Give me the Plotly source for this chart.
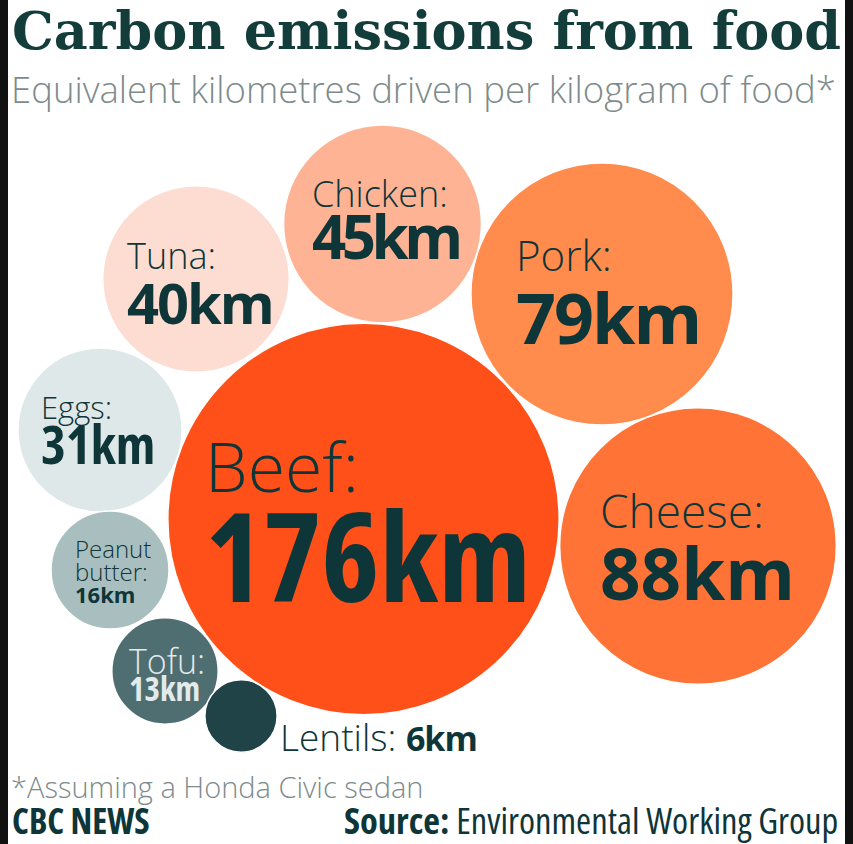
import plotly.graph_objects as go

# ---- data ----
categories = ["Beef", "Cheese", "Pork", "Chicken", "Tuna", "Eggs", "Peanut butter", "Tofu", "Lentils"]
values_km = [176, 88, 79, 45, 40, 31, 16, 13, 6]

# ---- styles ----
bubble_colors = ["#FF5019", "#FF7436", "#FF8B4C", "#FFB395", "#FDDCD1", "#DEE8E9", "#A9BEBF", "#4F6E72", "#1F4347"]
text_colors = ["#0E3538"] * 7 + ["#E2EAEA", "#0E3538"]

# ---- layout positions (pixels) ----
center_x = [363.5, 698, 602, 382.5, 196, 100, 110, 165, 241]
center_y = [519, 546, 294, 224, 279, 430, 570, 671, 716]
label_x = [204, 599, 515, 311, 126, 40, 74, 128, 279]
name_base = [490, 527, 270, 206, 268, 418, 580, 673, 750]
name_size = [68, 46, 42, 36, 36, 31, 24, 34, 37]
value_base = [598, 598, 342, 258, 322, 463, 602, 700, 750]
value_size = [124, 71, 70, 60, 56, 53, 22, 33, 34]
value_stretch = [77, 100, 100, 100, 100, 80, 100, 80, 100]
value_spacing = [0, 0, -2, -4.5, -2, 0, 0, 0, -1]
RADIUS_PER_SQRT_KM = 14.75

W, H = 853, 844
DARK = "#0E3538"
SANS = "Open Sans"

fig = go.Figure()
fig.add_trace(go.Scatter(
    x=center_x, y=center_y, mode="markers",
    marker=dict(size=values_km, sizemode="area",
                sizeref=1.0 / (2 * RADIUS_PER_SQRT_KM ** 2),
                color=bubble_colors, opacity=1,
                line=dict(color="white", width=1.5)),
    hoverinfo="skip", showlegend=False,
))

ann = []


def styled(text, stretch=100, spacing=0, size=None):
    css = []
    if stretch != 100:
        css.append(f"font-stretch:{stretch}%")
    if spacing:
        css.append(f"letter-spacing:{spacing}px")
    if size:
        css.append(f"font-size:{size}px")
    if css:
        return f'<span style="{";".join(css)}">{text}</span>'
    return text


def add_text(x, base, size, text, color, weight=400, family=SANS, xanchor="left"):
    ann.append(dict(x=x, y=base - 0.36 * size, xref="x", yref="y", text=text,
                    showarrow=False, xanchor=xanchor, yanchor="middle",
                    font=dict(family=family, size=size, color=color, weight=weight),
                    borderpad=0))


for i, cat in enumerate(categories):
    col = text_colors[i]
    if cat == "Lentils":
        val = styled(f"{values_km[i]}km", value_stretch[i], value_spacing[i], value_size[i])
        add_text(label_x[i], name_base[i], name_size[i], f"{cat}: <b>{val}</b>", col, weight=300)
        continue
    val = styled(f"{values_km[i]}km", value_stretch[i], value_spacing[i])
    words = cat.split(" ")
    lines = words[:-1] + [words[-1] + ":"]
    nl = len(lines)
    gap = name_size[i] * 0.96
    for j, ln in enumerate(lines):
        add_text(label_x[i], name_base[i] - (nl - 1 - j) * gap, name_size[i], ln, col, weight=300)
    add_text(label_x[i], value_base[i], value_size[i], val, col, weight=700)

# title / subtitle / notes
add_text(11, 49, 52.5, "Carbon emissions from food", "#123D3A", weight=700, family="DejaVu Serif")
add_text(10, 102, 36.5, "Equivalent kilometres driven per kilogram of food*", "#7D8B8B", weight=300)
add_text(10, 797, 29, "*Assuming a Honda Civic sedan", "#7D8B8B", weight=300)
add_text(11, 833, 35, styled("CBC NEWS", 80), DARK, weight=700)
add_text(839, 833, 36.5, styled("<b>Source:</b> Environmental Working Group", 80), DARK,
         weight=400, xanchor="right")

shapes = [
    dict(type="rect", xref="paper", yref="paper", x0=0, x1=8 / W, y0=0, y1=1,
         fillcolor="#111111", line=dict(width=0), layer="above"),
    dict(type="rect", xref="paper", yref="paper", x0=845 / W, x1=1, y0=0, y1=1,
         fillcolor="#111111", line=dict(width=0), layer="above"),
]

fig.update_layout(
    width=W, height=H, margin=dict(l=0, r=0, t=0, b=0),
    paper_bgcolor="white", plot_bgcolor="white",
    xaxis=dict(range=[0, W], visible=False, fixedrange=True),
    yaxis=dict(range=[H, 0], visible=False, fixedrange=True),
    annotations=ann, shapes=shapes, showlegend=False,
)

fig.write_html("out.html", config={"displayModeBar": False, "staticPlot": True},
               post_script="document.body.style.margin='0';document.body.style.overflow='hidden';")
